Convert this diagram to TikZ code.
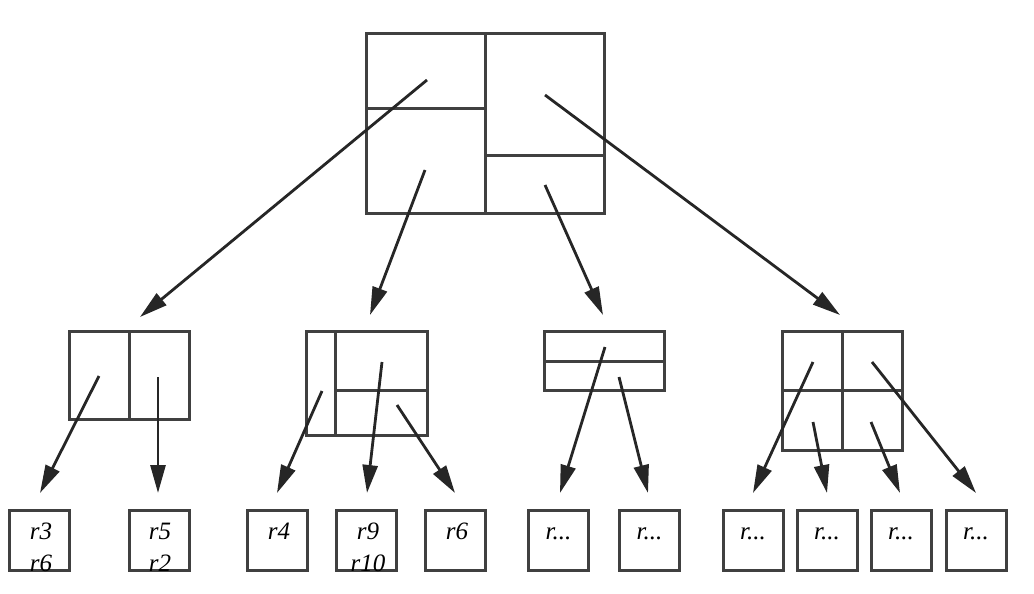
\documentclass[tikz,border=0pt]{standalone}
\usepackage{fontspec}
\setmainfont{Liberation Serif}
\usetikzlibrary{arrows.meta}
\begin{document}
\begin{tikzpicture}[x=1pt,y=-1pt,
  box/.style={draw=black!75,line width=3pt},
  arr/.style={draw=black!85,line width=2.8pt,-{Triangle[length=28pt,width=15pt]}},
  leaf/.style={draw=black!75,line width=3pt,minimum width=60pt,minimum height=60pt,inner sep=0pt},
  lt/.style={font=\itshape\fontsize{25}{32}\selectfont,align=center}]
\useasboundingbox (0,0) rectangle (1034,594);
\clip (0,0) rectangle (1034,572);
% top
\draw[box] (366,34) rectangle (604,213);
\draw[box] (485,34)--(485,213) (366,108)--(485,108) (485,155)--(604,155);
% level 2
\draw[box] (69,331) rectangle (189,419); \draw[box] (129,331)--(129,419);
\draw[box] (306,331) rectangle (427,435); \draw[box] (335,331)--(335,435) (335,390)--(427,390);
\draw[box] (544,331) rectangle (664,390); \draw[box] (544,361)--(664,361);
\draw[box] (782,331) rectangle (902,450); \draw[box] (842,331)--(842,450) (782,390)--(902,390);
% leaves
\node[leaf] (l1) at (39.5,540) {}; \node[lt] at (41,547) {r3\\r6};
\node[leaf] (l2) at (159,540) {}; \node[lt] at (160,547) {r5\\r2};
\node[leaf] (l3) at (277,540) {}; \node[lt] at (279,531) {r4};
\node[leaf] (l4) at (366,540) {}; \node[lt] at (368,547) {r9\\r10};
\node[leaf] (l5) at (455.5,540) {}; \node[lt] at (457,531) {r6};
\foreach \n/\x in {l6/558.5,l7/649.5,l8/753,l9/827,l10/901,l11/976}{
  \node[leaf] (\n) at (\x,540) {}; \node[lt] at (\x,534) {r...};}
% arrows top
\coordinate (a1) at (427,80); \coordinate (b1) at (140,317);
\coordinate (a2) at (425,170); \coordinate (b2) at (370,315);
\coordinate (a3) at (545,185); \coordinate (b3) at (603,315);
\coordinate (a4) at (545,95); \coordinate (b4) at (840,315);
\foreach \i in {1,...,4} \draw[arr] (a\i)--(b\i);
% arrows level 2
\coordinate (c1) at (99,376); \coordinate (d1) at (40,493);
\coordinate (c2) at (158,377); \coordinate (d2) at (158,493);
\coordinate (c3) at (322,391); \coordinate (d3) at (277,493);
\coordinate (c4) at (382,362); \coordinate (d4) at (367,493);
\coordinate (c5) at (397,405); \coordinate (d5) at (455,493);
\coordinate (c6) at (605,347); \coordinate (d6) at (560,493);
\coordinate (c7) at (619,377); \coordinate (d7) at (648,493);
\coordinate (c8) at (813,362); \coordinate (d8) at (753,493);
\coordinate (c9) at (813,422); \coordinate (d9) at (827,493);
\coordinate (c10) at (871,422); \coordinate (d10) at (900,493);
\coordinate (c11) at (872,362); \coordinate (d11) at (976,493);
\foreach \i in {1,...,11} \draw[arr] (c\i)--(d\i);
\end{tikzpicture}
\end{document}
